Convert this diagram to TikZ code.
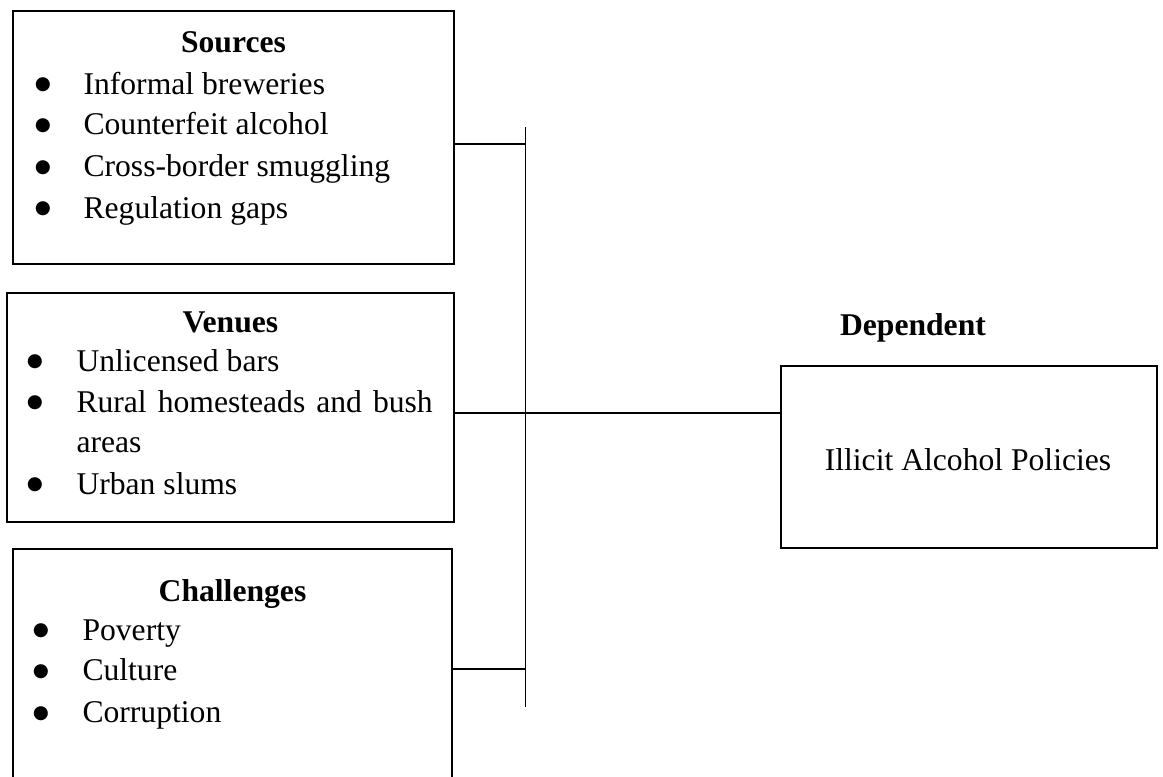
\documentclass[tikz,border=0pt]{standalone}
\usepackage{fontspec}
\setmainfont{Liberation Serif}
\newfontfamily\symfont{DejaVu Sans}
\tikzset{
    box/.style={draw, line width=0.75pt, inner sep=0pt},
    head/.style={anchor=base, inner sep=0pt, font=\fontsize{12}{14.4}\selectfont\bfseries},
    bul/.style={anchor=base, inner sep=0pt, yshift=0.6mm, font=\fontsize{7}{8}\selectfont\symfont},
    txt/.style={anchor=base west, inner sep=0pt, font=\fontsize{12}{14.4}\selectfont},
    wire/.style={line width=0.4pt}
}
\begin{document}
\begin{tikzpicture}%% start picture

    \useasboundingbox (0, 0) rectangle (15.507, 10.347);


        %% sources
        \node[box, minimum width=5.88cm, minimum height=3.373cm] (src) at (3.113, 8.513){};
            \node[head] (srch) at (3.113, 9.653){Sources};
                \node[bul] (srcb1) at (0.573, 9.093){●};
                \node[txt] (srct1) at (1.107, 9.093){Informal breweries};
                \node[bul] (srcb2) at (0.573, 8.547){●};
                \node[txt] (srct2) at (1.107, 8.547){Counterfeit alcohol};
                \node[bul] (srcb3) at (0.573, 7.987){●};
                \node[txt] (srct3) at (1.107, 7.987){Cross-border smuggling};
                \node[bul] (srcb4) at (0.573, 7.44){●};
                \node[txt] (srct4) at (1.107, 7.44){Regulation gaps};


        %% venues
        \node[box, minimum width=5.96cm, minimum height=3.053cm] (ven) at (3.073, 4.913){};
            \node[head] (venh) at (3.073, 5.907){Venues};
                \node[bul] (venb1) at (0.467, 5.4){●};
                \node[txt] (vent1) at (1.013, 5.4){Unlicensed bars};
                \node[bul] (venb2) at (0.467, 4.853){●};
                \node[txt] (vent2) at (1.013, 4.853){\makebox[4.75cm][s]{Rural homesteads and bush}};
                \node[txt] (vent3) at (1.013, 4.32){areas};
                \node[bul] (venb4) at (0.467, 3.76){●};
                \node[txt] (vent4) at (1.013, 3.76){Urban slums};


        %% challenges
        \node[box, minimum width=5.853cm, minimum height=3.127cm] (chl) at (3.1, 1.463){};
            \node[head] (chlh) at (3.1, 2.333){Challenges};
                \node[bul] (chlb1) at (0.547, 1.813){●};
                \node[txt] (chlt1) at (1.093, 1.813){Poverty};
                \node[bul] (chlb2) at (0.547, 1.267){●};
                \node[txt] (chlt2) at (1.093, 1.267){Culture};
                \node[bul] (chlb3) at (0.547, 0.707){●};
                \node[txt] (chlt3) at (1.093, 0.707){Corruption};


        %% dependent
        \node[head] (deph) at (12.173, 5.867){Dependent};
        \node[box, minimum width=5.013cm, minimum height=2.427cm] (dep) at (12.92, 4.253){};
            \node[txt, anchor=base] (dept) at (12.907, 4.08){Illicit Alcohol Policies};


        %% spine
        \coordinate (top) at (7.013, 8.653);
        \coordinate (bot) at (7.013, 0.92);
        \coordinate (s) at (7.013, 8.427);
        \coordinate (v) at (7.013, 4.84);
        \coordinate (c) at (7.013, 1.427);
            \draw[wire] (top) to (bot);
                \draw[wire] (src.east |- s) to (s);
                \draw[wire] (ven.east |- v) to (v);
                \draw[wire] (chl.east |- c) to (c);
            \draw[line width=0.65pt] (v) to (v -| dep.west);

\end{tikzpicture}
\end{document}
